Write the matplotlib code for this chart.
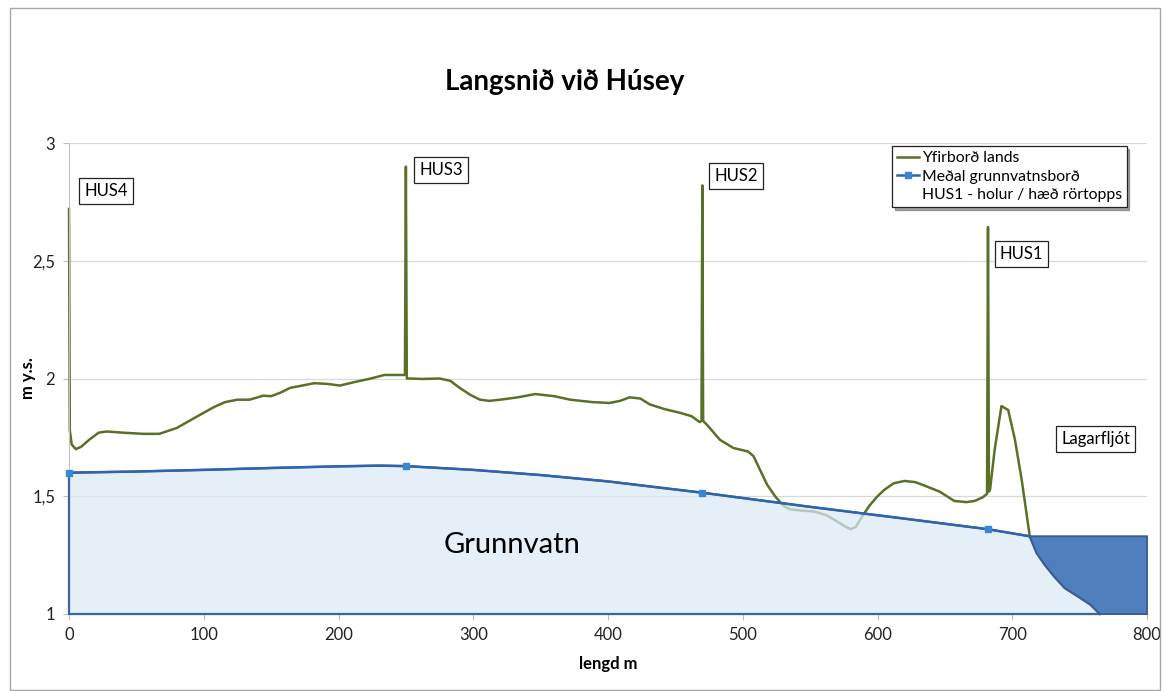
import matplotlib
matplotlib.use("Agg")
import matplotlib.pyplot as plt
from matplotlib.patches import Polygon, Rectangle
from matplotlib.lines import Line2D

plt.rcParams["font.family"] = ["Lato", "DejaVu Sans"]

# Yfirborð lands (ground surface)
ground_x = [0, 0.6, 2, 5, 9, 15, 22, 28, 40, 55, 67, 80, 97, 108, 116, 125, 134,
            140, 144, 150, 157, 164, 173, 182, 192, 201, 212, 224, 234, 242, 249.3,
            250, 250.7, 253, 262, 275, 283, 290, 298, 305, 312, 320, 333, 346, 360,
            372, 388, 401, 409, 416, 424, 431, 442, 453, 462, 468, 469.4,
            470, 470.6, 474, 483, 493, 504, 508, 513, 518, 524, 530, 535, 542, 553, 562, 568, 575, 580,
            584, 587, 594, 600, 605, 612, 620, 628, 635, 646, 657, 666, 672, 678, 681.3,
            682, 682.7, 683.5, 687, 692, 697, 702, 707, 713, 718, 724, 731, 739, 750, 758, 765]
ground_y = [2.72, 1.78, 1.72, 1.70, 1.71, 1.74, 1.77, 1.775, 1.77, 1.765, 1.765, 1.79, 1.845, 1.88, 1.90, 1.91, 1.91,
            1.92, 1.927, 1.925, 1.94, 1.96, 1.97, 1.98, 1.977, 1.97, 1.985, 2.00, 2.015, 2.015, 2.015,
            2.90, 2.0, 2.0, 1.998, 2.0, 1.99, 1.96, 1.93, 1.91, 1.905, 1.91, 1.92, 1.934, 1.925,
            1.91, 1.90, 1.896, 1.905, 1.92, 1.915, 1.89, 1.87, 1.855, 1.84, 1.815, 1.82,
            2.82, 1.82, 1.80, 1.74, 1.705, 1.69, 1.67, 1.61, 1.55, 1.50, 1.46, 1.445, 1.44, 1.435, 1.42, 1.40, 1.375, 1.36,
            1.37, 1.40, 1.46, 1.50, 1.527, 1.555, 1.565, 1.56, 1.545, 1.52, 1.48, 1.475, 1.48, 1.495, 1.51,
            2.643, 1.52, 1.527, 1.70, 1.883, 1.866, 1.74, 1.57, 1.33, 1.26, 1.21, 1.16, 1.11, 1.07, 1.04, 1.0]

# Meðal grunnvatnsborð (mean groundwater level)
gw_x = [0, 50, 100, 150, 200, 230, 250, 300, 350, 400, 470, 550, 620, 682, 713]
gw_y = [1.60, 1.605, 1.612, 1.62, 1.627, 1.63, 1.628, 1.612, 1.59, 1.563, 1.515, 1.455, 1.405, 1.36, 1.33]
well_x = [0, 250, 470, 682]
well_y = [1.60, 1.628, 1.515, 1.36]
well_names = ["HUS4", "HUS3", "HUS2", "HUS1"]
well_label_pos = [(27.5, 2.796), (276, 2.885), (495, 2.86), (707, 2.529)]

river_level = 1.33
x_ticks = [0, 100, 200, 300, 400, 500, 600, 700, 800]
y_ticks = [1, 1.5, 2, 2.5, 3]
y_tick_labels = ["1", "1,5", "2", "2,5", "3"]

fig = plt.figure(figsize=(11.64, 6.91), dpi=100)
fig.patches.append(Rectangle((10 / 1164, 1 / 691), 1150 / 1164, 682 / 691,
                             transform=fig.transFigure, fill=False,
                             edgecolor="#a6a6a6", linewidth=1.0))
ax = fig.add_axes([69 / 1164, 1 - 614 / 691, 1078 / 1164, 471 / 691])

# ground surface line
ax.plot(ground_x, ground_y, color="#5a7028", linewidth=1.8, zorder=2,
        solid_joinstyle="round", clip_on=False)

# groundwater body (light) - drawn over the line so the submerged part looks faded
i_r = ground_x.index(713)
gw_poly = list(zip(gw_x, gw_y)) + list(zip(ground_x[i_r:], ground_y[i_r:])) + [(0, 1.0)]
ax.add_patch(Polygon(gw_poly, closed=True, facecolor="#dce9f5", alpha=0.72,
                     edgecolor="none", zorder=3))
ax.add_patch(Polygon(gw_poly, closed=True, facecolor="none",
                     edgecolor="#3b63a0", linewidth=1.6, zorder=4, clip_on=False))

# river Lagarfljót
river_poly = ([(713, river_level), (800, river_level), (800, 1.0)]
              + list(zip(ground_x[i_r:][::-1], ground_y[i_r:][::-1])))
ax.add_patch(Polygon(river_poly, closed=True, facecolor="#4f7fbd",
                     edgecolor="#3a5f94", linewidth=1.4, zorder=4, clip_on=False))

# groundwater line with markers at the wells
ax.plot(gw_x, gw_y, color="#2e64ab", linewidth=1.8, zorder=5, clip_on=False)
ax.plot(well_x, well_y, linestyle="none", marker="s", markersize=4,
        color="#3a86d0", zorder=6, clip_on=False)

box = dict(boxstyle="square,pad=0.3", facecolor="white", edgecolor="#222222", linewidth=0.9)
for name, (lx, ly) in zip(well_names, well_label_pos):
    ax.text(lx, ly, name, fontsize=12, ha="center", va="center", bbox=box, zorder=7)
ax.text(762, 1.743, "Lagarfljót", fontsize=12, ha="center", va="center", bbox=box, zorder=7)
ax.text(329, 1.293, "Grunnvatn", fontsize=21, ha="center", va="center", zorder=7)

ax.set_xlim(0, 800)
ax.set_ylim(1, 3)
ax.set_xticks(x_ticks)
ax.set_yticks(y_ticks)
ax.set_yticklabels(y_tick_labels)
ax.tick_params(axis="both", labelsize=12, colors="#222222", length=4, width=0.8)
ax.tick_params(axis="x", color="#bfbfbf", pad=5)
ax.tick_params(axis="y", color="#bfbfbf", pad=6)
ax.grid(axis="y", color="#d9d9d9", linewidth=0.9, zorder=0)
ax.set_axisbelow(True)
for side in ["top", "right"]:
    ax.spines[side].set_visible(False)
for side in ["left", "bottom"]:
    ax.spines[side].set_color("#bfbfbf")

ax.set_xlabel("lengd m", fontsize=12, fontweight="bold", labelpad=10)
ax.set_ylabel("m y.s.", fontsize=12, fontweight="bold")
ax.yaxis.set_label_coords(-0.031, 0.5)
fig.text(565 / 1164, 1 - 82 / 691, "Langsnið við Húsey", fontsize=20,
         fontweight="bold", ha="center", va="center")

handles = [
    Line2D([], [], color="#5a7028", linewidth=1.8),
    Line2D([], [], color="#2e64ab", linewidth=1.8, marker="s", markersize=4,
           markerfacecolor="#3a86d0", markeredgecolor="#3a86d0"),
    Line2D([], [], color="none"),
]
labels = ["Yfirborð lands", "Meðal grunnvatnsborð", "HUS1 - holur / hæð rörtopps"]
leg = ax.legend(handles, labels, loc="upper right", bbox_to_anchor=(0.981, 0.993),
                fontsize=11.3, frameon=True, fancybox=False, shadow=True,
                handlelength=1.4, handletextpad=0.2, borderpad=0.3,
                labelspacing=0.3, borderaxespad=0)
leg.get_frame().set_edgecolor("#222222")
leg.get_frame().set_linewidth(0.9)
leg.set_zorder(8)

fig.savefig("out.png", dpi=100)
